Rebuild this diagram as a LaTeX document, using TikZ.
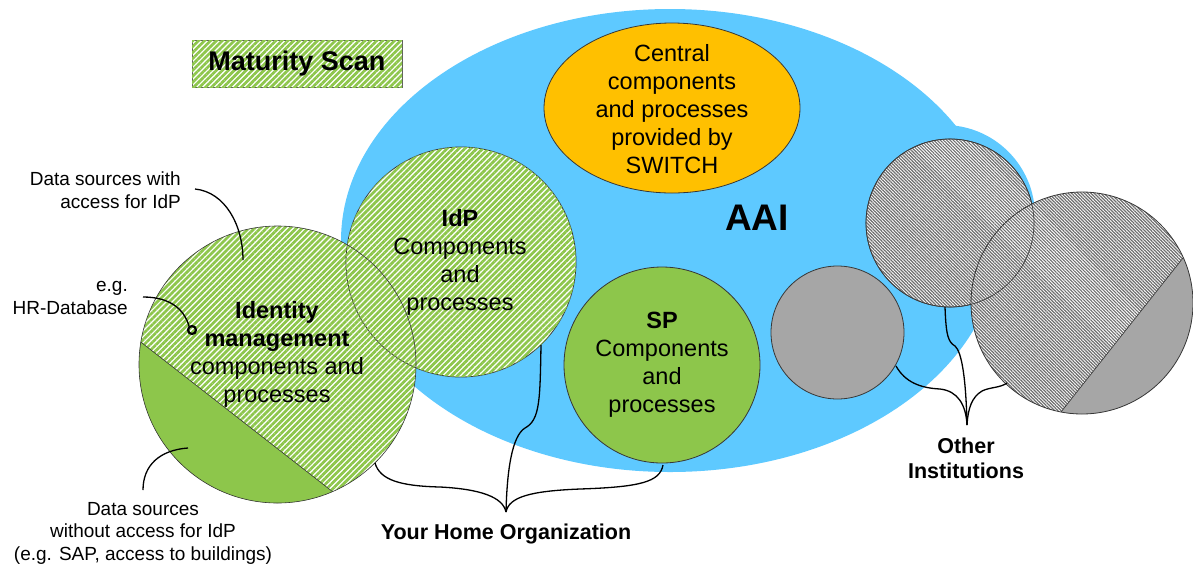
\documentclass[tikz,border=0pt]{standalone}
\usepackage{fontspec}
\setmainfont{Liberation Sans}
\usetikzlibrary{patterns.meta}

\definecolor{aaiblue}{RGB}{94,201,255}
\definecolor{switchorange}{RGB}{255,192,0}
\definecolor{idmgreen}{RGB}{141,198,75}
\definecolor{instgray}{RGB}{166,166,166}
\definecolor{hatchgray}{RGB}{110,110,110}
\definecolor{rim}{RGB}{55,55,55}

\tikzset{
  rimline/.style={draw=rim, line width=0.8pt},
  greenhatch/.style={fill=white, postaction={pattern={Lines[angle=45,distance=4.2pt,line width=2.7pt]}, pattern color=idmgreen}},
  grayhatch/.style={fill=white, postaction={pattern={Lines[angle=-45,distance=2.3pt,line width=1.2pt]}, pattern color=hatchgray}},
  leader/.style={draw=black, line width=1.3pt},
  bodytext/.style={font=\fontsize{23.5}{28}\selectfont, align=center, inner sep=0pt},
  smalltext/.style={font=\fontsize{19}{22.5}\selectfont, inner sep=0pt},
  labeltext/.style={font=\bfseries\fontsize{21.5}{25}\selectfont, align=center, inner sep=0pt},
}

\begin{document}
\begin{tikzpicture}[x=1pt,y=-1pt]
\useasboundingbox (0,0) rectangle (1193,566);

% AAI federation area
\fill[aaiblue] (670,240.5) ellipse[x radius=329, y radius=231.5];
\fill[aaiblue] (944,216) circle[radius=91];

% central SWITCH components
\path[rimline, fill=switchorange] (672,108) ellipse[x radius=128, y radius=85];

% identity management circle, split into two kinds of data sources
\path[greenhatch] (277.5,364.5) circle[radius=138.5];
\begin{scope}
  \clip (277.5,364.5) circle[radius=138.5];
  \fill[idmgreen] (46.5,268.5) -- (428.5,566.5) -- (46.5,566.5) -- cycle;
  \draw[rim, line width=0.6pt] (46.5,268.5) -- (428.5,566.5);
\end{scope}

% IdP circle
\path[greenhatch, rimline] (461,262) circle[radius=115];
\draw[rim, line width=0.6pt] (277.5,364.5) circle[radius=138.5];

% SP circle
\path[rimline, fill=idmgreen] (662,365) circle[radius=98];

% other institutions
\path[rimline, fill=instgray] (837.5,332.5) circle[radius=66.5];
\path[grayhatch, rimline] (950,223) circle[radius=84];
\path[grayhatch] (1082,303) circle[radius=111];
\begin{scope}
  \clip (1082,303) circle[radius=111];
  \fill[instgray] (1244,181) -- (1000,489) -- (1244,489) -- cycle;
  \draw[rim, line width=0.6pt] (1244,181) -- (1000,489);
\end{scope}
\draw[rimline] (1082,303) circle[radius=111];
\draw[rim, line width=0.6pt] (950,223) circle[radius=84];

% maturity scan legend
\node[name=scan, greenhatch, draw=rim!80, line width=0.8pt, minimum width=210pt, minimum height=47pt,
      inner sep=0pt, font=\bfseries\fontsize{27}{30}\selectfont] at (297,63.5) {Maturity Scan};

% texts inside the shapes
\node[bodytext, name=central] at (672,109.5) {Central\\components\\and processes\\provided by\\SWITCH};
\node[font=\bfseries\fontsize{37}{40}\selectfont, inner sep=0pt, name=aai] at (757,218) {AAI};
\node[bodytext, name=idptext] at (460,262) {\textbf{IdP}\\Components\\and\\processes};
\node[bodytext, name=idmtext] at (277,354) {\textbf{Identity}\\\textbf{management}\\components and\\processes};
\node[bodytext, name=sptext] at (662,364.5) {\textbf{SP}\\Components\\and\\processes};

% annotations
\node[smalltext, anchor=east, align=right, name=withacc] at (181,190) {Data sources with\\access for IdP};
\node[smalltext, anchor=east, align=right, name=hrdb] at (128,298) {e.g.\\HR-Database};
\node[smalltext, align=center, name=noacc] at (143,533) {Data sources\\without access for IdP\\(e.g. SAP, access to buildings)};
\node[labeltext, name=home] at (506,534) {Your Home Organization};
\node[labeltext, name=others] at (966,458.5) {Other\\Institutions};

% leader end points
\coordinate (withaccA) at (195,189);
\coordinate (withaccB) at (243,260);
\coordinate (hrA) at (143,297);
\coordinate (hrdot) at (192,330);
\coordinate (noaccA) at (143,490);
\coordinate (noaccB) at (188,448);
\coordinate (hometip) at (506,512);
\coordinate (homeL) at (375,463);
\coordinate (homeM) at (541,345);
\coordinate (homeR) at (663,465);
\coordinate (othtip) at (967,425);
\coordinate (othL) at (896,366);
\coordinate (othM) at (945,307);
\coordinate (othR) at (1007,383);

% leaders
\draw[leader] (withaccA) .. controls (225,192) and (243,225) .. (withaccB);
\draw[leader] (hrA) .. controls (170,297) and (184,309) .. (189,326);
\draw[line width=2.2pt] (hrdot) circle[radius=4];
\draw[leader] (noaccA) .. controls (143,465) and (160,450) .. (noaccB);

% brace to the home organization
\draw[leader] (homeL) .. controls (380,480) and (400,486) .. (440,487) .. controls (480,489) and (503,497) .. (hometip);
\draw[leader] (homeM) .. controls (540,400) and (540,420) .. (525,428) .. controls (512,436) and (507,470) .. (hometip);
\draw[leader] (homeR) .. controls (660,482) and (640,487) .. (580,489) .. controls (530,491) and (509,497) .. (hometip);

% brace to the other institutions
\draw[leader] (othL) .. controls (905,382) and (920,388) .. (940,389) .. controls (958,391) and (966,405) .. (othtip);
\draw[leader] (othM) .. controls (946,335) and (948,342) .. (955,346) .. controls (962,352) and (966,380) .. (othtip);
\draw[leader] (othR) .. controls (1000,388) and (990,387) .. (982,391) .. controls (972,397) and (968,408) .. (othtip);
\end{tikzpicture}
\end{document}
